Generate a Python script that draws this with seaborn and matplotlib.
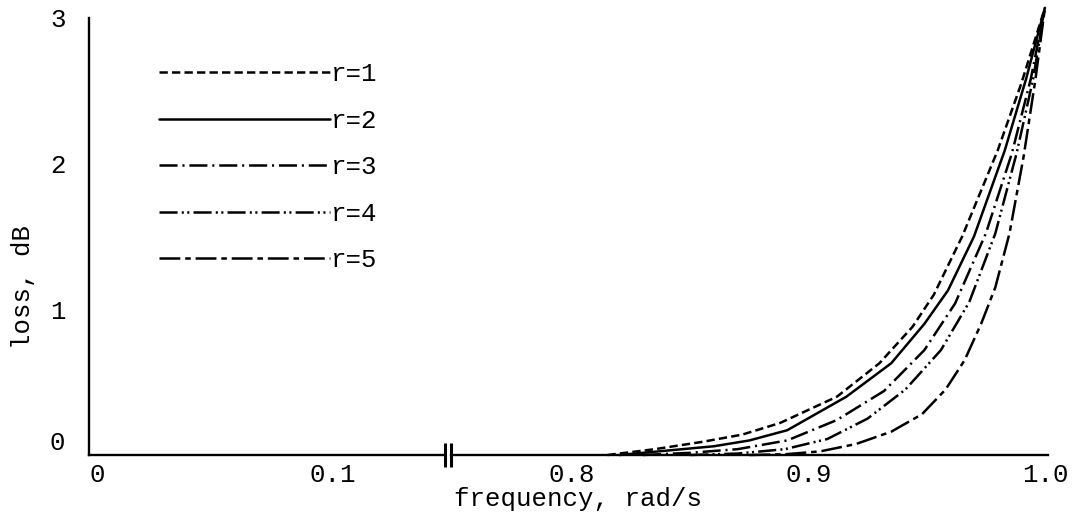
import numpy as np
import pandas as pd
import matplotlib
matplotlib.use("Agg")
import matplotlib.pyplot as plt
from matplotlib.lines import Line2D
from matplotlib.transforms import ScaledTranslation
import seaborn as sns

# Loss curves (dB) against frequency (rad/s) for r = 1..5
freq_r1 = [0.815, 0.835, 0.855, 0.872, 0.888, 0.912, 0.930, 0.944, 0.953, 0.965, 0.980, 0.990, 1.0]
loss_r1 = [0.00, 0.04, 0.09, 0.14, 0.22, 0.40, 0.63, 0.88, 1.10, 1.50, 2.09, 2.55, 3.07]

freq_r2 = [0.820, 0.840, 0.860, 0.875, 0.891, 0.916, 0.935, 0.949, 0.959, 0.970, 0.983, 0.992, 1.0]
loss_r2 = [0.00, 0.03, 0.06, 0.10, 0.17, 0.40, 0.63, 0.90, 1.13, 1.50, 2.09, 2.58, 3.07]

freq_r3 = [0.830, 0.850, 0.870, 0.891, 0.912, 0.932, 0.949, 0.962, 0.975, 0.986, 0.994, 1.0]
loss_r3 = [0.00, 0.015, 0.04, 0.10, 0.24, 0.44, 0.72, 1.04, 1.52, 2.07, 2.58, 3.07]

freq_r4 = [0.850, 0.870, 0.890, 0.908, 0.925, 0.941, 0.956, 0.968, 0.979, 0.988, 0.995, 1.0]
loss_r4 = [0.00, 0.01, 0.04, 0.11, 0.25, 0.45, 0.72, 1.05, 1.52, 2.07, 2.58, 3.07]

freq_r5 = [0.875, 0.890, 0.905, 0.920, 0.935, 0.948, 0.958, 0.966, 0.973, 0.979, 0.985, 0.991, 0.996, 1.0]
loss_r5 = [0.00, 0.005, 0.025, 0.075, 0.16, 0.28, 0.45, 0.65, 0.90, 1.15, 1.52, 2.05, 2.58, 3.07]

series_labels = ["r=1", "r=2", "r=3", "r=4", "r=5"]
left_xticks = [0.0, 0.1]
left_xticklabels = ["0", "0.1"]
right_xticks = [0.8, 0.9, 1.0]
right_xticklabels = ["0.8", "0.9", "1.0"]
yticks = [0, 1, 2, 3]
yticklabels = ["0", "1", "2", "3"]

# Dash patterns in points (scale_dashes off)
dash_styles = {
    "r=1": (6, 3),
    "r=2": "",
    "r=3": (13, 3.5, 1.5, 3.5),
    "r=4": (13, 3, 1.5, 2.5, 1.5, 3),
    "r=5": (15, 3.5, 4, 3.5),
}

frames = []
for lab, fx, fy in zip(series_labels,
                       [freq_r1, freq_r2, freq_r3, freq_r4, freq_r5],
                       [loss_r1, loss_r2, loss_r3, loss_r4, loss_r5]):
    frames.append(pd.DataFrame({"freq": fx, "loss": fy, "r": lab}))
df = pd.concat(frames, ignore_index=True)

sns.set_theme(style="white")
plt.rcParams["font.family"] = ["Liberation Mono", "DejaVu Sans Mono"]
plt.rcParams["lines.scale_dashes"] = False
plt.rcParams["axes.linewidth"] = 1.6

FS = 18.5
LW = 1.8
W, H = 1072, 515
fig = plt.figure(figsize=(W / 100, H / 100), dpi=100)
fig.patch.set_facecolor("white")

bottom = (H - 455) / H
height = 455 / H
ax_l = fig.add_axes([89 / W, bottom, (445 - 89) / W, height])
ax_r = fig.add_axes([451 / W, bottom, (1048 - 451) / W, height])

ymax = 455 / 145.67
for ax in (ax_l, ax_r):
    ax.set_ylim(0, ymax)
    ax.set_facecolor("none")
    for s in ("top", "right"):
        ax.spines[s].set_visible(False)
    ax.spines["bottom"].set_color("black")
    ax.spines["bottom"].set_linewidth(1.7)
    ax.tick_params(axis="x", direction="out", length=5, width=1.5,
                   color="black", pad=1, labelsize=FS, labelcolor="black")

ax_l.set_xlim(-0.0034, 0.1475)
ax_r.set_xlim(0.7488, 1.0013)

# curves
palette = {lab: "black" for lab in series_labels}
sns.lineplot(data=df, x="freq", y="loss", hue="r", style="r",
             dashes=dash_styles, palette=palette, linewidth=LW,
             estimator=None, sort=False, legend=False, ax=ax_r,
             clip_on=False)

# left axis: y spine and ticks
ax_l.spines["left"].set_color("black")
ax_l.spines["left"].set_linewidth(1.7)
ax_l.spines["left"].set_bounds(0, 3)
ax_l.set_yticks(yticks)
ax_l.set_yticklabels(yticklabels)
ax_l.tick_params(axis="y", direction="out", length=8, width=1.5,
                 color="black", pad=9, labelsize=FS, labelcolor="black")
ax_l.set_xticks(left_xticks)
ax_l.set_xticklabels(left_xticklabels)

ax_r.spines["left"].set_visible(False)
ax_r.set_yticks([])
ax_r.set_xticks(right_xticks)
ax_r.set_xticklabels(right_xticklabels)
ax_r.set_xlabel("")
ax_r.set_ylabel("")
ax_l.set_xlabel("")

# lift the "0" label on the loss axis a little above the baseline
zero_lab = ax_l.get_yticklabels()[0]
zero_lab.set_transform(zero_lab.get_transform()
                       + ScaledTranslation(0, 14 / 100, fig.dpi_scale_trans))

ax_l.set_ylabel("loss, dB", fontsize=FS, color="black")
ax_l.yaxis.set_label_coords(-0.152, (455 - 287) / 455)

fig.text(578 / W, 1 - 499 / H, "frequency, rad/s", ha="center", va="center",
         fontsize=FS, color="black")

# axis break marks
for ax, xpos in ((ax_l, 1.0), (ax_r, 0.0)):
    ax.plot([xpos], [0], marker="|", markersize=17, markeredgewidth=2.2,
            color="black", transform=ax.transAxes, clip_on=False)

# legend
handles = []
for lab in series_labels:
    d = dash_styles[lab]
    ls = "-" if d == "" else (0, d)
    handles.append(Line2D([], [], color="black", linewidth=LW, linestyle=ls))
leg = ax_l.legend(handles, series_labels, loc="upper left",
                  bbox_to_anchor=(159 / W, 1 - 62 / H),
                  bbox_transform=fig.transFigure, frameon=False,
                  fontsize=FS, handlelength=6.65, handletextpad=0.05,
                  labelspacing=0.88, borderpad=0, borderaxespad=0)
for t in leg.get_texts():
    t.set_color("black")

fig.savefig("out.png", dpi=100, facecolor="white")
